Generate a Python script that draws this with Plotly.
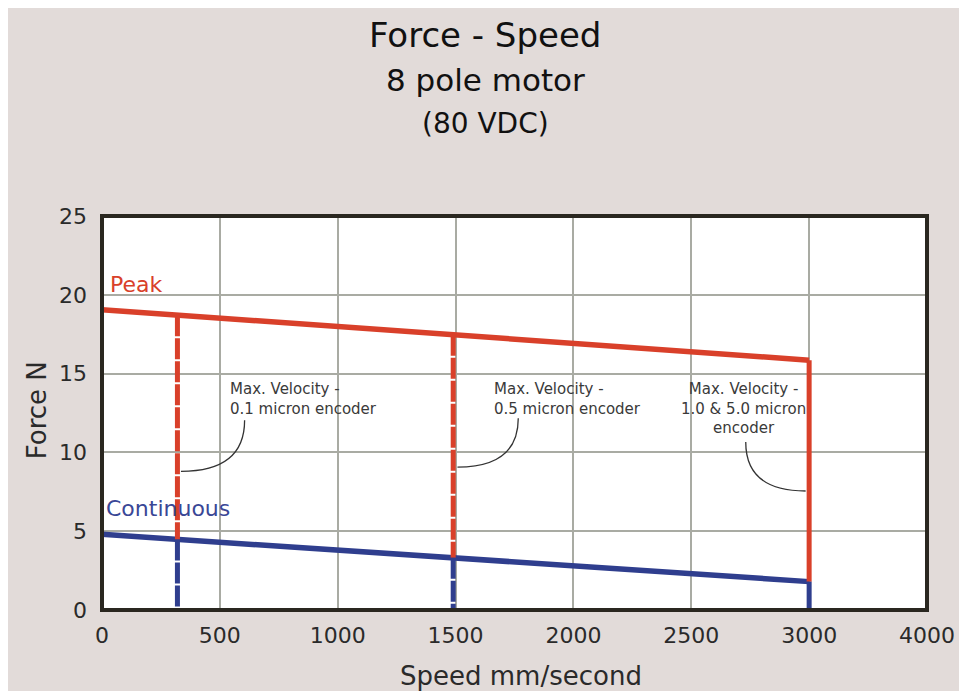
import numpy as np
import plotly.graph_objects as go

# ---- data ----
speed = [0, 3000]
peak_force = [19.05, 15.85]
cont_force = [4.8, 1.8]
max_vel = [320, 1490, 3000]          # max velocity limits (mm/s)
vel_dash = ["dash", "dash", "solid"]
vel_labels = ["Max. Velocity -<br>0.1 micron encoder",
              "Max. Velocity -<br>0.5 micron encoder",
              "Max. Velocity -<br>1.0 &amp; 5.0 micron<br>encoder"]
label_x = [533, 1655, 2721]
label_y = [13.4, 13.4, 12.77]
label_align = ["left", "left", "center"]
# leader curves: start (near text) -> end (at velocity line)
lead_start = [(605, 12.04), (1766, 12.17), (2731, 10.66)]
lead_end_y = [8.80, 9.07, 7.55]
lead_end_dx = [15, 18, -15]

x_tickvals = [0, 500, 1000, 1500, 2000, 2500, 3000, 3500]
x_ticktext = ["0", "500", "1000", "1500", "2000", "2500", "3000", "4000"]
y_tickvals = [0, 5, 10, 15, 20, 25]

RED = "#d9402a"
BLUE = "#2f3e8e"
FONT = "DejaVu Sans"

fig = go.Figure()

fig.add_trace(go.Scatter(x=speed, y=peak_force, mode="lines",
                         line=dict(color=RED, width=5.5), showlegend=False))
fig.add_trace(go.Scatter(x=speed, y=cont_force, mode="lines",
                         line=dict(color=BLUE, width=5.5), showlegend=False))

for v, d in zip(max_vel, vel_dash):
    pk = float(np.interp(v, speed, peak_force))
    ct = float(np.interp(v, speed, cont_force))
    dash = "21px,2px" if d == "dash" else "solid"
    fig.add_trace(go.Scatter(x=[v, v], y=[pk, ct], mode="lines",
                             line=dict(color=RED, width=5, dash=dash), showlegend=False))
    fig.add_trace(go.Scatter(x=[v, v], y=[ct, 0], mode="lines",
                             line=dict(color=BLUE, width=5, dash=dash), showlegend=False))

shapes = []
for (sx, sy), v, ey, dx in zip(lead_start, max_vel, lead_end_y, lead_end_dx):
    ex = v + dx
    path = f"M {sx},{sy} Q {sx},{ey} {ex},{ey}"
    shapes.append(dict(type="path", path=path, xref="x", yref="y",
                       line=dict(color="#333333", width=1.3)))

# frame
shapes.append(dict(type="rect", xref="paper", yref="paper", x0=0, x1=1, y0=0, y1=1,
                   line=dict(color="#2a2720", width=4), layer="above"))

annotations = []
for t, x, y, a in zip(vel_labels, label_x, label_y, label_align):
    annotations.append(dict(text=t, x=x, y=y, xref="x", yref="y",
                            xanchor=a, yanchor="middle", align=a, showarrow=False,
                            font=dict(family=FONT, size=15, color="#3a3a3a")))
annotations.append(dict(text="Peak", x=26, y=20.68, xref="x", yref="y",
                        xanchor="left", yanchor="middle", showarrow=False,
                        font=dict(family=FONT, size=22, color=RED)))
annotations.append(dict(text="Continuous", x=8, y=6.45, xref="x", yref="y",
                        xanchor="left", yanchor="middle", showarrow=False,
                        font=dict(family=FONT, size=22, color="#3a4796")))
# titles
title_lines = [("Force - Speed", 34, 1.4593), ("8 pole motor", 31, 1.3443), ("(80 VDC)", 28, 1.2336)]
for t, s, y in title_lines:
    annotations.append(dict(text=t, x=0.4644, y=y, xref="paper", yref="paper",
                            xanchor="center", yanchor="middle", showarrow=False,
                            font=dict(family=FONT, size=s, color="#111111")))
annotations.append(dict(text="Speed mm/second", x=0.508, y=-0.1667, xref="paper", yref="paper",
                        xanchor="center", yanchor="middle", showarrow=False,
                        font=dict(family=FONT, size=26, color="#2a2a2a")))
annotations.append(dict(text="Force N", x=-0.0785, y=0.5076, xref="paper", yref="paper",
                        xanchor="center", yanchor="middle", textangle=-90, showarrow=False,
                        font=dict(family=FONT, size=26, color="#2a2a2a")))

fig.update_layout(
    width=959, height=683,
    margin=dict(l=94, r=37, t=208, b=81),
    paper_bgcolor="#e2dbd9", plot_bgcolor="white",
    shapes=shapes, annotations=annotations, showlegend=False,
    font=dict(family=FONT),
)
fig.update_xaxes(range=[0, 3500], tickvals=x_tickvals, ticktext=x_ticktext,
                 showgrid=True, gridcolor="#a9aba3", gridwidth=1.5, zeroline=False,
                 showline=False, ticks="", ticklabelstandoff=10,
                 tickfont=dict(family=FONT, size=22, color="#2a2a2a"))
fig.update_yaxes(range=[0, 25], tickvals=y_tickvals,
                 showgrid=True, gridcolor="#a9aba3", gridwidth=1.5, zeroline=False,
                 showline=False, ticks="", ticklabelstandoff=14,
                 tickfont=dict(family=FONT, size=22, color="#2a2a2a"))

fig.write_html("out.html")
